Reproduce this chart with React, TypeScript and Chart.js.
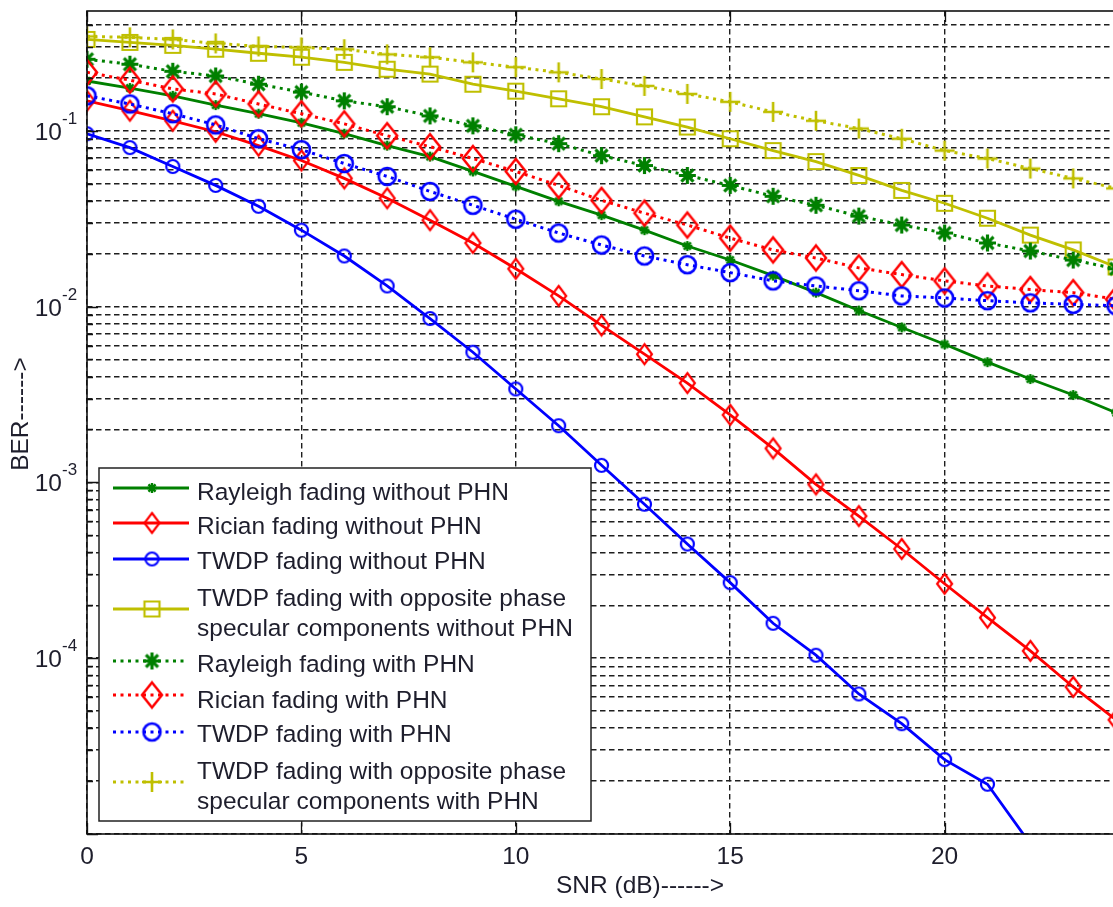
import React, { useEffect, useRef } from 'react';
import { Chart, registerables } from 'chart.js';

Chart.register(...registerables);

// ---------------- data ----------------
const snrDb = [0, 1, 2, 3, 4, 5, 6, 7, 8, 9, 10, 11, 12, 13, 14, 15, 16, 17, 18, 19, 20, 21, 22, 23, 24];

const rayleighWithoutPhn = [0.192, 0.175, 0.158, 0.14, 0.125, 0.111, 0.0962, 0.0823, 0.0713, 0.0587, 0.0483, 0.0397, 0.0331, 0.0272, 0.0221, 0.0184, 0.015, 0.012, 0.00949, 0.00761, 0.0061, 0.00483, 0.00387, 0.00314, 0.00249];
const ricianWithoutPhn = [0.148, 0.13, 0.114, 0.0987, 0.0823, 0.0677, 0.0536, 0.0413, 0.031, 0.023, 0.0164, 0.0115, 0.00781, 0.00536, 0.00367, 0.00242, 0.00156, 0.000974, 0.000643, 0.000418, 0.000265, 0.00017, 0.00011, 0.0000686, 0.0000446];
const twdpWithoutPhn = [0.0962, 0.0802, 0.0626, 0.0489, 0.0372, 0.0272, 0.0194, 0.0131, 0.00855, 0.0055, 0.0034, 0.0021, 0.00125, 0.000751, 0.000446, 0.000269, 0.000158, 0.000104, 0.0000626, 0.0000424, 0.0000265, 0.0000192, 0.00000878];
const oppositeWithoutPhn = [0.331, 0.318, 0.306, 0.291, 0.276, 0.262, 0.245, 0.224, 0.21, 0.184, 0.168, 0.152, 0.137, 0.12, 0.105, 0.0901, 0.0771, 0.0668, 0.0557, 0.0458, 0.0387, 0.0318, 0.0255, 0.021, 0.0168];
const rayleighWithPhn = [0.255, 0.239, 0.218, 0.205, 0.184, 0.166, 0.148, 0.137, 0.1215, 0.1067, 0.0949, 0.0845, 0.0722, 0.0634, 0.0557, 0.0489, 0.0424, 0.0377, 0.0327, 0.0291, 0.0262, 0.023, 0.0207, 0.0184, 0.0164];
const ricianWithPhn = [0.215, 0.194, 0.173, 0.162, 0.142, 0.125, 0.1095, 0.0937, 0.0812, 0.0695, 0.0587, 0.0489, 0.0402, 0.034, 0.0291, 0.0245, 0.021, 0.0189, 0.0166, 0.0152, 0.014, 0.0131, 0.0125, 0.012, 0.011];
const twdpWithPhn = [0.158, 0.142, 0.125, 0.108, 0.0901, 0.0781, 0.0651, 0.055, 0.0452, 0.0377, 0.0314, 0.0262, 0.0224, 0.0194, 0.0173, 0.0156, 0.014, 0.0131, 0.0123, 0.0115, 0.0112, 0.0108, 0.0105, 0.0103, 0.0101];
const oppositeWithPhn = [0.344, 0.34, 0.331, 0.314, 0.302, 0.298, 0.291, 0.272, 0.262, 0.245, 0.23, 0.215, 0.197, 0.18, 0.162, 0.146, 0.128, 0.114, 0.103, 0.0901, 0.0771, 0.0695, 0.061, 0.0536, 0.047];

const seriesValues = [
  rayleighWithoutPhn,
  ricianWithoutPhn,
  twdpWithoutPhn,
  oppositeWithoutPhn,
  rayleighWithPhn,
  ricianWithPhn,
  twdpWithPhn,
  oppositeWithPhn,
];

const legendLabels = [
  ['Rayleigh fading without PHN'],
  ['Rician fading without PHN'],
  ['TWDP fading without PHN'],
  ['TWDP fading with opposite phase', 'specular components without PHN'],
  ['Rayleigh fading with PHN'],
  ['Rician fading with PHN'],
  ['TWDP fading with PHN'],
  ['TWDP fading with opposite phase', 'specular components with PHN'],
];

const xTickValues = [0, 5, 10, 15, 20, 25];
const yLabelExponents = [-1, -2, -3, -4];
const xTitle = 'SNR (dB)------>';
const yTitle = 'BER------>';

// ---------------- styles ----------------
const FONT = '"Liberation Sans", Arial, Helvetica, sans-serif';
const TEXT = '#1e1e2c';
const GREEN = '#008000';
const RED = '#ff0000';
const BLUE = '#0000ff';
const YELLOW = '#bfbf00';

type Shape = 'star' | 'diamond' | 'circle' | 'square' | 'plus';
const seriesStyles: { color: string; dotted: boolean; shape: Shape; w: number; h: number; lw: number }[] = [
  { color: GREEN, dotted: false, shape: 'star', w: 10, h: 10, lw: 2.4 },
  { color: RED, dotted: false, shape: 'diamond', w: 15, h: 20, lw: 2.2 },
  { color: BLUE, dotted: false, shape: 'circle', w: 13, h: 13, lw: 2.2 },
  { color: YELLOW, dotted: false, shape: 'square', w: 15, h: 15, lw: 2.2 },
  { color: GREEN, dotted: true, shape: 'star', w: 17, h: 17, lw: 3.2 },
  { color: RED, dotted: true, shape: 'diamond', w: 20, h: 25, lw: 2.5 },
  { color: BLUE, dotted: true, shape: 'circle', w: 17, h: 17, lw: 2.6 },
  { color: YELLOW, dotted: true, shape: 'plus', w: 20, h: 20, lw: 2.6 },
];

const DOT_DASH = [3, 4.5];
const GRID_DASH = [5.5, 3.5];

function makeMarker(shape: Shape, color: string, w: number, h: number, lw: number) {
  const pad = Math.ceil(lw) + 1;
  const c = document.createElement('canvas');
  c.width = Math.ceil(w + 2 * pad);
  c.height = Math.ceil(h + 2 * pad);
  const ctx = c.getContext('2d')!;
  const cx = c.width / 2;
  const cy = c.height / 2;
  const rx = w / 2;
  const ry = h / 2;
  ctx.strokeStyle = color;
  ctx.lineWidth = lw;
  ctx.lineJoin = 'miter';
  ctx.beginPath();
  if (shape === 'circle') {
    ctx.ellipse(cx, cy, rx, ry, 0, 0, Math.PI * 2);
  } else if (shape === 'diamond') {
    ctx.moveTo(cx, cy - ry);
    ctx.lineTo(cx + rx, cy);
    ctx.lineTo(cx, cy + ry);
    ctx.lineTo(cx - rx, cy);
    ctx.closePath();
  } else if (shape === 'square') {
    ctx.rect(cx - rx, cy - ry, w, h);
  } else if (shape === 'plus') {
    ctx.moveTo(cx - rx, cy);
    ctx.lineTo(cx + rx, cy);
    ctx.moveTo(cx, cy - ry);
    ctx.lineTo(cx, cy + ry);
  } else {
    const d = rx * Math.SQRT1_2;
    ctx.moveTo(cx - rx, cy);
    ctx.lineTo(cx + rx, cy);
    ctx.moveTo(cx, cy - ry);
    ctx.lineTo(cx, cy + ry);
    ctx.moveTo(cx - d, cy - d);
    ctx.lineTo(cx + d, cy + d);
    ctx.moveTo(cx + d, cy - d);
    ctx.lineTo(cx - d, cy + d);
  }
  ctx.stroke();
  return c;
}

function yGridValues(min: number, max: number) {
  const out: number[] = [];
  for (let e = -6; e <= 0; e++) {
    for (let k = 1; k <= 9; k++) {
      const v = k * Math.pow(10, e);
      if (v >= min * 0.9999 && v <= max * 1.0001) out.push(v);
    }
  }
  return out;
}

function isDecade(v: number) {
  const l = Math.log10(v);
  return Math.abs(l - Math.round(l)) < 1e-6;
}

// legend layout
const LEG = { left: 99, top: 468, right: 591, bottom: 821, lineX0: 113, lineX1: 189, markerX: 152, textX: 197 };
const legendLineY = [488, 523, 559, 609, 661, 695, 732, 782];
const legendTextY = [491, 525, 560, 597, 663, 699, 733, 770];

export default function App() {
  const canvasRef = useRef<HTMLCanvasElement | null>(null);

  useEffect(() => {
    const canvas = canvasRef.current;
    if (!canvas) return;
    const markers = seriesStyles.map((s) => makeMarker(s.shape, s.color, s.w, s.h, s.lw));

    const decorPlugin = {
      id: 'matlabDecor',
      afterDraw(chart: any) {
        const { ctx, chartArea: a, scales } = chart;
        const xs = scales.x;
        const ys = scales.y;
        ctx.save();
        ctx.setLineDash([]);
        // frame
        ctx.strokeStyle = '#111';
        ctx.lineWidth = 1.6;
        ctx.strokeRect(a.left, a.top, a.right - a.left, a.bottom - a.top);
        // y ticks (inward)
        ctx.lineWidth = 1.3;
        for (const t of ys.ticks) {
          const y = Math.round(ys.getPixelForValue(t.value)) + 0.5;
          const len = isDecade(t.value) ? 11 : 6;
          ctx.beginPath();
          ctx.moveTo(a.left, y);
          ctx.lineTo(a.left + len, y);
          ctx.moveTo(a.right, y);
          ctx.lineTo(a.right - len, y);
          ctx.stroke();
        }
        // x ticks (inward)
        for (const v of xTickValues) {
          const x = Math.round(xs.getPixelForValue(v)) + 0.5;
          ctx.beginPath();
          ctx.moveTo(x, a.bottom);
          ctx.lineTo(x, a.bottom - 11);
          ctx.moveTo(x, a.top);
          ctx.lineTo(x, a.top + 11);
          ctx.stroke();
        }
        // y tick labels 10^n
        ctx.fillStyle = TEXT;
        for (const e of yLabelExponents) {
          const y = ys.getPixelForValue(Math.pow(10, e));
          ctx.font = `24.5px ${FONT}`;
          ctx.textAlign = 'right';
          ctx.textBaseline = 'alphabetic';
          ctx.fillText('10', 62, y + 9);
          ctx.font = `17px ${FONT}`;
          ctx.textAlign = 'left';
          ctx.fillText(String(e), 62, y - 7);
        }
        // axis titles
        ctx.font = `24.5px ${FONT}`;
        ctx.textAlign = 'center';
        ctx.textBaseline = 'middle';
        ctx.fillText(xTitle, 640, 886);
        ctx.save();
        ctx.translate(21, 414);
        ctx.rotate(-Math.PI / 2);
        ctx.fillText(yTitle, 0, 0);
        ctx.restore();
        // legend
        ctx.fillStyle = '#ffffff';
        ctx.fillRect(LEG.left, LEG.top, LEG.right - LEG.left, LEG.bottom - LEG.top);
        ctx.strokeStyle = '#222';
        ctx.lineWidth = 1.5;
        ctx.strokeRect(LEG.left, LEG.top, LEG.right - LEG.left, LEG.bottom - LEG.top);
        seriesStyles.forEach((s, i) => {
          const ly = legendLineY[i];
          ctx.strokeStyle = s.color;
          ctx.lineWidth = s.dotted ? 3 : 2.8;
          ctx.setLineDash(s.dotted ? DOT_DASH : []);
          ctx.beginPath();
          ctx.moveTo(LEG.lineX0, ly);
          ctx.lineTo(s.dotted ? LEG.lineX1 - 3 : LEG.lineX1, ly);
          ctx.stroke();
          ctx.setLineDash([]);
          const m = markers[i];
          ctx.drawImage(m, LEG.markerX - m.width / 2, ly - m.height / 2);
          ctx.fillStyle = TEXT;
          ctx.font = `24.5px ${FONT}`;
          ctx.textAlign = 'left';
          ctx.textBaseline = 'alphabetic';
          legendLabels[i].forEach((line, j) => {
            ctx.fillText(line, LEG.textX, legendTextY[i] + 30 * j + 8.8);
          });
        });
        ctx.restore();
      },
    };

    const datasets = seriesValues.map((vals, i) => {
      const s = seriesStyles[i];
      return {
        label: legendLabels[i].join(' '),
        data: vals.map((v, k) => ({ x: snrDb[k], y: v })),
        borderColor: s.color,
        backgroundColor: s.color,
        borderWidth: s.dotted ? 3 : 2.8,
        borderDash: s.dotted ? DOT_DASH : [],
        borderCapStyle: 'butt' as const,
        pointStyle: markers[i],
        pointRadius: 8,
        tension: 0,
        fill: false,
        clip: 0,
        order: seriesValues.length - i,
      };
    });

    const chart = new Chart(canvas, {
      type: 'line',
      data: { datasets },
      options: {
        responsive: false,
        animation: false,
        devicePixelRatio: 1,
        events: [],
        layout: { padding: { left: 0, right: 41, top: 6, bottom: 0 } },
        plugins: {
          legend: { display: false },
          tooltip: { enabled: false },
          title: { display: false },
        },
        scales: {
          x: {
            type: 'linear',
            min: 0,
            max: 25,
            afterBuildTicks: (s: any) => {
              s.ticks = xTickValues.map((v) => ({ value: v }));
            },
            afterFit: (s: any) => {
              s.height = 73;
            },
            grid: { color: '#1e1e1e', lineWidth: 1.4, drawTicks: false },
            border: { display: false, dash: GRID_DASH },
            ticks: {
              autoSkip: false,
              maxRotation: 0,
              padding: 9,
              color: TEXT,
              font: { family: FONT, size: 24.5 },
            },
          },
          y: {
            type: 'logarithmic',
            min: 1e-5,
            max: 0.48,
            afterBuildTicks: (s: any) => {
              s.ticks = yGridValues(1e-5, 0.48).map((v) => ({ value: v, major: isDecade(v) }));
            },
            afterFit: (s: any) => {
              s.width = 87;
            },
            grid: { color: '#1e1e1e', lineWidth: 1.4, drawTicks: false },
            border: { display: false, dash: GRID_DASH },
            ticks: { display: false, autoSkip: false },
          },
        },
      },
      plugins: [decorPlugin],
    } as any);

    return () => {
      chart.destroy();
    };
  }, []);

  return (
    <div
      style={{
        position: 'absolute',
        left: 0,
        top: 0,
        width: 1113,
        height: 907,
        overflow: 'hidden',
        background: '#ffffff',
      }}
    >
      <canvas ref={canvasRef} width={1200} height={907} style={{ display: 'block' }} />
    </div>
  );
}
